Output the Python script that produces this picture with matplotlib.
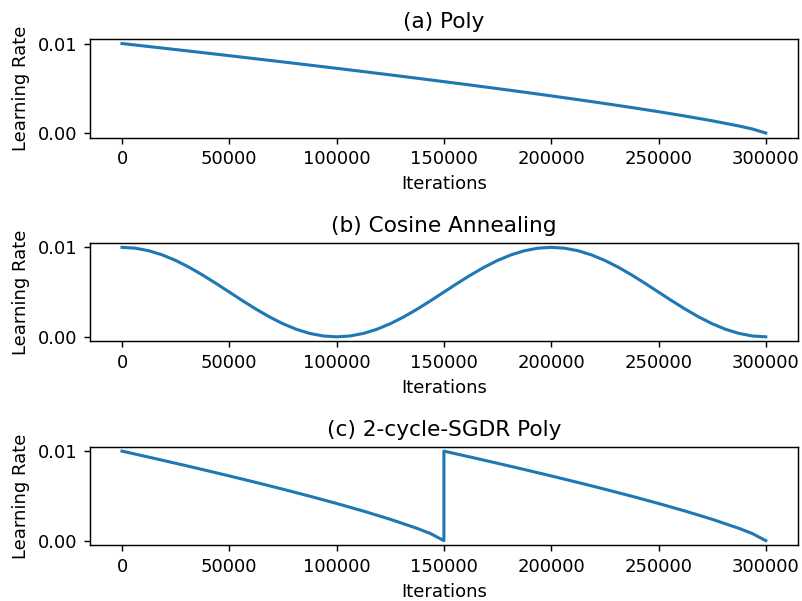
import matplotlib
matplotlib.use("Agg")
import matplotlib.pyplot as plt

poly_iters = [0, 12500, 25000, 37500, 50000, 62500, 75000, 87500, 100000,
              112500, 125000, 137500, 150000, 162500, 175000, 187500, 200000,
              212500, 225000, 237500, 250000, 262500, 275000, 287500, 293750, 300000]
poly_lr = [0.01, 0.009665, 0.009328, 0.008987, 0.008643, 0.008295, 0.007944, 0.007589,
           0.007230, 0.006867, 0.006498, 0.006123, 0.005744, 0.005357, 0.004964, 0.004563,
           0.004152, 0.003732, 0.003299, 0.002851, 0.002385, 0.001895, 0.001370, 0.000787,
           0.000452, 0.0]

cos_iters = [i * 6250 for i in range(49)]
cos_lr = [0.01, 0.009904, 0.009619, 0.009157, 0.008536, 0.007778, 0.006913, 0.005975,
          0.005, 0.004025, 0.003087, 0.002222, 0.001464, 0.000843, 0.000381, 0.000096,
          0.0,
          0.000096, 0.000381, 0.000843, 0.001464, 0.002222, 0.003087, 0.004025, 0.005,
          0.005975, 0.006913, 0.007778, 0.008536, 0.009157, 0.009619, 0.009904, 0.01,
          0.009904, 0.009619, 0.009157, 0.008536, 0.007778, 0.006913, 0.005975, 0.005,
          0.004025, 0.003087, 0.002222, 0.001464, 0.000843, 0.000381, 0.000096, 0.0]

sgdr_iters = [0, 12500, 25000, 37500, 50000, 62500, 75000, 87500, 100000,
              112500, 125000, 137500, 143750, 150000,
              150000, 162500, 175000, 187500, 200000, 212500, 225000, 237500,
              250000, 262500, 275000, 287500, 293750, 300000]
sgdr_lr = [0.01, 0.009328, 0.008643, 0.007944, 0.007230, 0.006498, 0.005744, 0.004964,
           0.004152, 0.003299, 0.002385, 0.001370, 0.000787, 0.0,
           0.01, 0.009328, 0.008643, 0.007944, 0.007230, 0.006498, 0.005744, 0.004964,
           0.004152, 0.003299, 0.002385, 0.001370, 0.000787, 0.0]

titles = ["(a) Poly", "(b) Cosine Annealing", "(c) 2-cycle-SGDR Poly"]

fig, axs = plt.subplots(3, 1, figsize=(802 / 130, 601 / 130), dpi=130)
fig.subplots_adjust(left=0.112, right=0.995, top=0.935, bottom=0.093, hspace=1.07)

for ax, (x, y), t in zip(axs, [(poly_iters, poly_lr), (cos_iters, cos_lr),
                                (sgdr_iters, sgdr_lr)], titles):
    ax.plot(x, y, linewidth=1.7)
    ax.set_title(t)
    ax.set_xlabel("Iterations")
    ax.set_ylabel("Learning Rate")
    ax.set_yticks([0.0, 0.01])
    ax.set_yticklabels(["0.00", "0.01"])

fig.savefig("out.png")
